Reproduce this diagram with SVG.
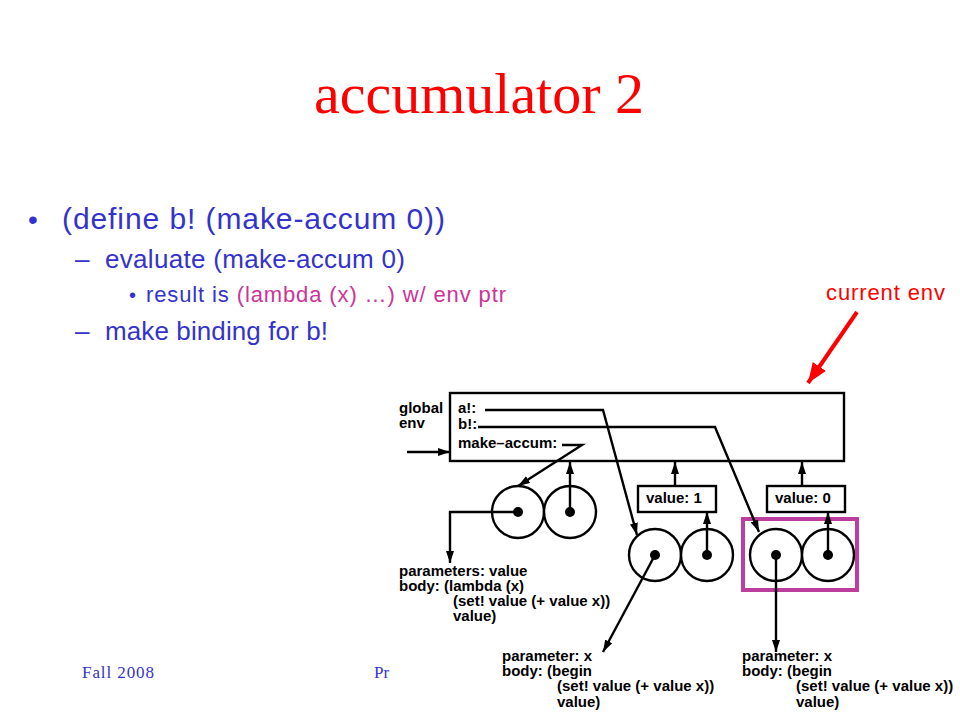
<svg xmlns="http://www.w3.org/2000/svg" width="960" height="720" viewBox="0 0 960 720">
<style>
.slide{font-family:"Liberation Sans",Arial,sans-serif;fill:#3333CC}
.mag{fill:#CC3399}
.title{font-family:"Liberation Serif","Times New Roman",serif;fill:#FF0000;font-size:58px}
.foot{font-family:"Liberation Serif","Times New Roman",serif;fill:#3333CC;font-size:17px}
.code{font-family:"Liberation Sans",Arial,sans-serif;font-weight:bold;font-size:15px;fill:#000}
.frame{fill:#fff;stroke:#000;stroke-width:2.4}
.cell{fill:#fff;stroke:#000;stroke-width:2.4}
.dot{fill:#000}
.conn{fill:none;stroke:#000;stroke-width:2.4}
.hl{fill:none;stroke:#BB3D9E;stroke-width:4}
</style>
<defs>
<marker id="ah" markerUnits="userSpaceOnUse" markerWidth="12" markerHeight="8" refX="12" refY="4" orient="auto">
<path d="M0,0 L12,4 L0,8 z" fill="#000"/>
</marker>
<marker id="rah" markerUnits="userSpaceOnUse" markerWidth="20" markerHeight="16" refX="20" refY="8" orient="auto">
<path d="M0,0 L20,8 L0,16 z" fill="#FF0000"/>
</marker>
</defs>
<rect width="960" height="720" fill="#fff"/>

<g id="title">
<text class="title" x="479" y="113" text-anchor="middle">accumulator 2</text>
</g>

<g id="bullets">
<text class="slide" x="28" y="229" font-size="28">•</text>
<text class="slide" x="62" y="229" font-size="30" textLength="383" lengthAdjust="spacing">(define b! (make-accum 0))</text>
<text class="slide" x="75" y="268" font-size="26">–</text>
<text class="slide" x="105" y="268" font-size="26" textLength="300" lengthAdjust="spacing">evaluate (make-accum 0)</text>
<text class="slide" x="129" y="302" font-size="20">•</text>
<text class="slide" x="146" y="302" font-size="22" textLength="360" lengthAdjust="spacing">result is <tspan class="mag">(lambda (x) …) w/ env ptr</tspan></text>
<text class="slide" x="75" y="340" font-size="26">–</text>
<text class="slide" x="105" y="340" font-size="26" textLength="223" lengthAdjust="spacing">make binding for b!</text>
</g>

<g id="footer">
<text class="foot" x="82" y="678" textLength="72" lengthAdjust="spacing">Fall 2008</text>
<text class="foot" x="374" y="678">Pr</text>
</g>

<g id="current-env-label">
<text x="826" y="300" font-family="Liberation Sans, Arial, sans-serif" font-size="22" fill="#FF0000" textLength="119" lengthAdjust="spacing">current env</text>
</g>

<g id="global-env">
<rect class="frame" x="450" y="393" width="394" height="68"/>
<text class="code" x="399" y="413">global</text>
<text class="code" x="399" y="428">env</text>
<text class="code" x="458" y="413">a!:</text>
<text class="code" x="458" y="429">b!:</text>
<text class="code" x="458" y="448">make–accum:</text>
</g>

<g id="frame-value-1">
<rect class="frame" x="638" y="486" width="78" height="26"/>
<text class="code" x="646" y="503">value: 1</text>
</g>

<g id="frame-value-0">
<rect class="frame" x="767" y="486" width="78" height="26"/>
<text class="code" x="775" y="503">value: 0</text>
</g>

<g id="proc-make-accum">
<circle class="cell" cx="518" cy="512" r="26"/>
<circle class="cell" cx="570" cy="512" r="26"/>
<circle class="dot" cx="518" cy="512" r="5"/>
<circle class="dot" cx="570" cy="512" r="5"/>
</g>

<g id="proc-a">
<circle class="cell" cx="655" cy="555" r="26"/>
<circle class="cell" cx="707" cy="555" r="26"/>
<circle class="dot" cx="655" cy="555" r="5"/>
<circle class="dot" cx="707" cy="555" r="5"/>
</g>

<g id="proc-b">
<circle class="cell" cx="776" cy="555" r="26"/>
<circle class="cell" cx="828" cy="555" r="26"/>
<circle class="dot" cx="776" cy="555" r="5"/>
<circle class="dot" cx="828" cy="555" r="5"/>
</g>

<g id="highlight">
<rect class="hl" x="743" y="519" width="114" height="71"/>
</g>

<g id="code-make-accum">
<text class="code" x="399" y="576">parameters: value</text>
<text class="code" x="399" y="591">body: (lambda (x)</text>
<text class="code" x="453" y="606">(set! value (+ value x))</text>
<text class="code" x="453" y="621">value)</text>
</g>

<g id="code-a">
<text class="code" x="502" y="661">parameter: x</text>
<text class="code" x="502" y="676">body: (begin</text>
<text class="code" x="557" y="691">(set! value (+ value x))</text>
<text class="code" x="557" y="707">value)</text>
</g>

<g id="code-b">
<text class="code" x="742" y="661">parameter: x</text>
<text class="code" x="742" y="676">body: (begin</text>
<text class="code" x="796" y="691">(set! value (+ value x))</text>
<text class="code" x="796" y="707">value)</text>
</g>

<g id="connectors">
<path class="conn" d="M485,410 H603 L637,535" marker-end="url(#ah)"/>
<path class="conn" d="M478,427 H715 L759,532" marker-end="url(#ah)"/>
<path class="conn" d="M562,445 H582 L518,486" marker-end="url(#ah)"/>
<path class="conn" d="M407,452 H450" marker-end="url(#ah)"/>
<path class="conn" d="M570,512 V462" marker-end="url(#ah)"/>
<path class="conn" d="M518,512 H450 V563" marker-end="url(#ah)"/>
<path class="conn" d="M675,486 V462" marker-end="url(#ah)"/>
<path class="conn" d="M802,486 V462" marker-end="url(#ah)"/>
<path class="conn" d="M707,555 V512" marker-end="url(#ah)"/>
<path class="conn" d="M828,555 V512" marker-end="url(#ah)"/>
<path class="conn" d="M655,555 L603,652" marker-end="url(#ah)"/>
<path class="conn" d="M776,555 V652" marker-end="url(#ah)"/>
<path d="M857,312 L808,383" fill="none" stroke="#FF0000" stroke-width="4" marker-end="url(#rah)"/>
</g>
</svg>
